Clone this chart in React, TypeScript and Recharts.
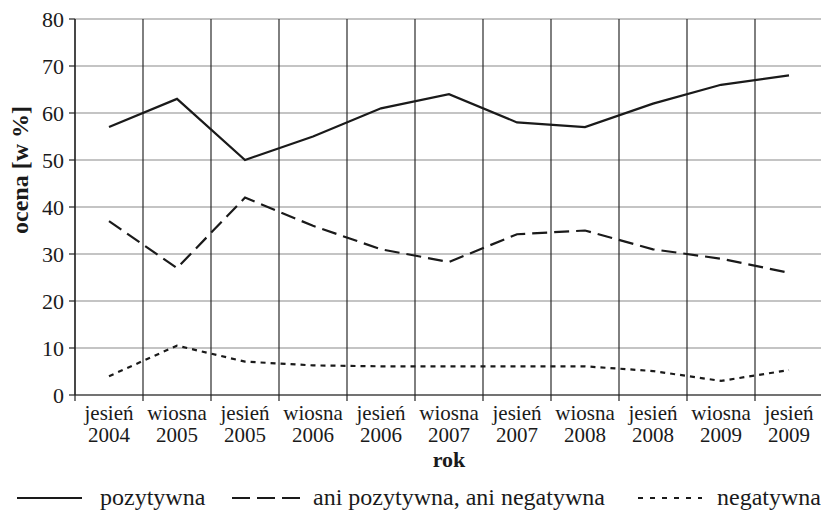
import React from 'react';
import { LineChart, Line, XAxis, YAxis, CartesianGrid, Legend, Label } from 'recharts';

const categories = [
  'jesień 2004', 'wiosna 2005', 'jesień 2005', 'wiosna 2006', 'jesień 2006', 'wiosna 2007',
  'jesień 2007', 'wiosna 2008', 'jesień 2008', 'wiosna 2009', 'jesień 2009',
];
const pozytywna = [57, 63, 50, 55, 61, 64, 58, 57, 62, 66, 68];
const aniAni = [37, 27, 42, 36, 31, 28.3, 34.2, 35, 31, 29, 26];
const negatywna = [4, 10.5, 7.1, 6.3, 6.1, 6.1, 6.1, 6.1, 5.1, 3, 5.3];
const yTicks = [0, 10, 20, 30, 40, 50, 60, 70, 80];

const seriesNames = ['pozytywna', 'ani pozytywna, ani negatywna', 'negatywna'];

const data = categories.map((c, i) => ({
  cat: c,
  poz: pozytywna[i],
  ani: aniAni[i],
  neg: negatywna[i],
}));

const FONT = '"Liberation Serif", "Times New Roman", serif';
const INK = '#1a1a1a';

const XTick = (props: any) => {
  const { x, y, payload } = props;
  const parts = String(payload.value).split(' ');
  return (
    <g>
      <line x1={x - 34} x2={x - 34} y1={y} y2={y + 6} stroke="#222" strokeWidth={1.2} />
      <text x={x} y={y} textAnchor="middle" fontFamily={FONT} fontSize={21} fill={INK}>
        <tspan x={x} dy={25}>{parts[0]}</tspan>
        <tspan x={x} dy={22}>{parts[1]}</tspan>
      </text>
    </g>
  );
};

const YLabel = (props: any) => {
  const vb = props.viewBox || { x: 0, y: 19, width: 75, height: 376 };
  const cx = 20;
  const cy = vb.y + 151;
  return (
    <text
      x={cx}
      y={cy}
      transform={`rotate(-90, ${cx}, ${cy})`}
      textAnchor="middle"
      dominantBaseline="central"
      fontFamily={FONT}
      fontWeight="bold"
      fontSize={24}
      fill={INK}
    >
      ocena [w %]
    </text>
  );
};

const XLabel = (props: any) => {
  const vb = props.viewBox || { x: 75, y: 395, width: 748, height: 80 };
  return (
    <text
      x={vb.x + vb.width / 2}
      y={vb.y + 72}
      textAnchor="middle"
      fontFamily={FONT}
      fontWeight="bold"
      fontSize={22}
      fill={INK}
    >
      rok
    </text>
  );
};

const legendLayout = [
  { left: 17, w: 65, gap: 18, dash: undefined as string | undefined },
  { left: 232, w: 68, gap: 13, dash: '18 7' },
  { left: 638, w: 64, gap: 15, dash: '5 7' },
];

const renderLegend = () => {
  return (
    <div style={{ position: 'relative', width: 821, height: 28, fontFamily: FONT, fontSize: 24, color: INK }}>
      {seriesNames.map((name, i) => {
        const L = legendLayout[i];
        return (
          <div
            key={name}
            style={{ position: 'absolute', left: L.left, top: 0, height: 28, display: 'flex', alignItems: 'center', whiteSpace: 'nowrap' }}
          >
            <svg width={L.w} height={10} style={{ display: 'block' }}>
              <line x1={0} x2={L.w} y1={6} y2={6} stroke={INK} strokeWidth={2} strokeDasharray={L.dash} />
            </svg>
            <span style={{ marginLeft: L.gap, lineHeight: '28px' }}>{name}</span>
          </div>
        );
      })}
    </div>
  );
};

export default function App() {
  return (
    <div style={{ position: 'absolute', left: 0, top: 0, width: 821, height: 513, overflow: 'hidden', background: '#fff' }}>
      <LineChart width={823} height={513} data={data} margin={{ top: 19, right: 0, left: 0, bottom: 10 }}>
        <CartesianGrid vertical={false} stroke="#8a8a8a" strokeWidth={1.2} />
        <CartesianGrid
          horizontal={false}
          stroke="#2a2a2a"
          strokeWidth={1.2}
          verticalCoordinatesGenerator={(p: any) => {
            const off = p.offset || { left: 75, width: 748 };
            return categories.map((_, i) => off.left + (i * off.width) / categories.length).concat([off.left + off.width]);
          }}
        />
        <XAxis
          dataKey="cat"
          height={80}
          padding={{ left: 34, right: 34 }}
          tickLine={false}
          tickSize={0}
          tickMargin={0}
          interval={0}
          axisLine={{ stroke: '#222', strokeWidth: 1.2 }}
          tick={<XTick />}
        >
          <Label content={<XLabel />} />
        </XAxis>
        <YAxis
          width={75}
          domain={[0, 80]}
          ticks={yTicks}
          interval={0}
          tickSize={6}
          tickMargin={5}
          axisLine={{ stroke: '#222', strokeWidth: 1.2 }}
          tickLine={{ stroke: '#222', strokeWidth: 1.2 }}
          tick={{ fontFamily: FONT, fontSize: 22, fill: INK }}
        >
          <Label content={<YLabel />} />
        </YAxis>
        <Legend
          verticalAlign="bottom"
          content={renderLegend}
          wrapperStyle={{ left: 0, top: 483, width: 821, height: 28 }}
        />
        <Line name={seriesNames[0]} dataKey="poz" type="linear" stroke={INK} strokeWidth={2.2} dot={false} isAnimationActive={false} />
        <Line name={seriesNames[1]} dataKey="ani" type="linear" stroke={INK} strokeWidth={2.2} strokeDasharray="15 7" dot={false} isAnimationActive={false} />
        <Line name={seriesNames[2]} dataKey="neg" type="linear" stroke={INK} strokeWidth={2.2} strokeDasharray="5 5" dot={false} isAnimationActive={false} />
      </LineChart>
    </div>
  );
}
